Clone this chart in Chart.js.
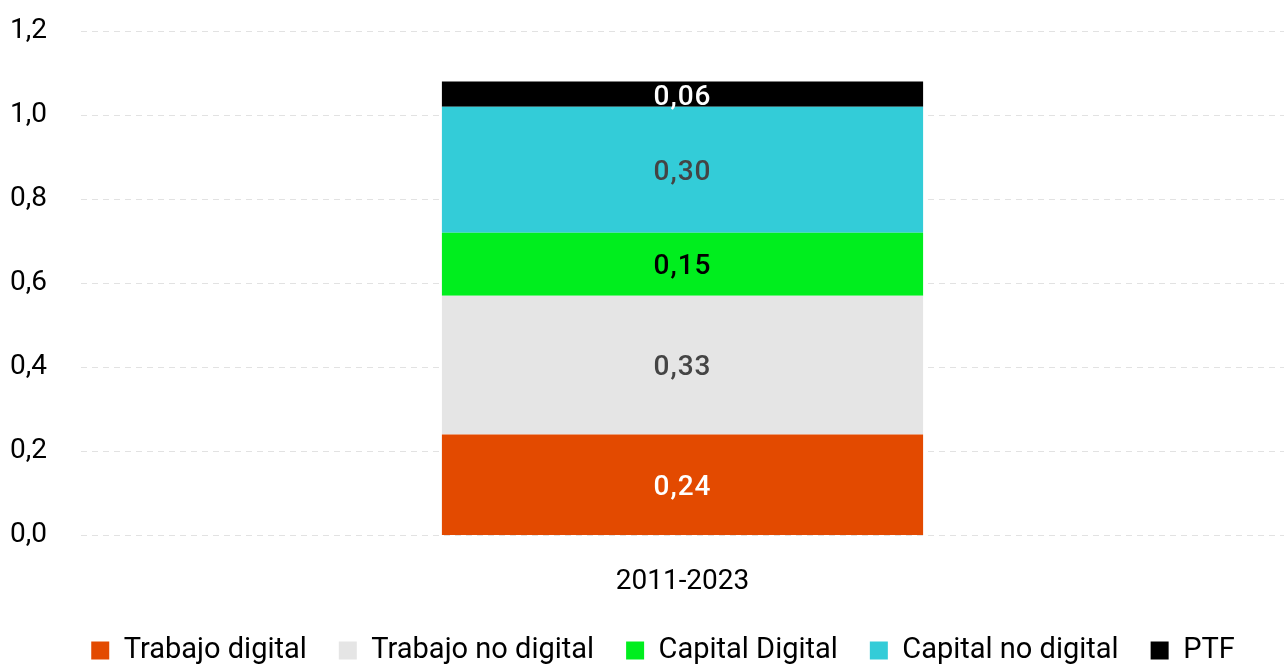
<!DOCTYPE html>
<html>
<head>
<meta charset="utf-8">
<script src="https://cdn.jsdelivr.net/npm/chart.js@4/dist/chart.umd.min.js"></script>
<style>
  html, body { margin: 0; padding: 0; background: #ffffff; }
  #wrap { width: 1284px; height: 664px; }
</style>
</head>
<body>
<div id="wrap"><canvas id="c" width="1284" height="664"></canvas></div>
<script>
// Contribution to growth, period 2011-2023
const categories = ['2011-2023'];
const seriesNames = ['Trabajo digital', 'Trabajo no digital', 'Capital Digital', 'Capital no digital', 'PTF'];
const trabajoDigital = [0.24];
const trabajoNoDigital = [0.33];
const capitalDigital = [0.15];
const capitalNoDigital = [0.30];
const ptf = [0.06];
const yTicks = [0.0, 0.2, 0.4, 0.6, 0.8, 1.0, 1.2];

const seriesValues = [trabajoDigital, trabajoNoDigital, capitalDigital, capitalNoDigital, ptf];
const seriesColors = ['#e34a00', '#e5e5e5', '#00ee1e', '#33ccd8', '#000000'];
const labelColors = ['#ffffff', '#444444', '#000000', '#444444', '#ffffff'];

const fmt = (v, d) => v.toFixed(d).replace('.', ',');

// Draws each segment's value in the middle of its bar piece
const segmentLabels = {
  id: 'segmentLabels',
  afterDatasetsDraw(chart) {
    const ctx = chart.ctx;
    ctx.save();
    ctx.font = '500 28px Roboto';
    ctx.letterSpacing = '1px';
    ctx.textAlign = 'center';
    ctx.textBaseline = 'middle';
    chart.data.datasets.forEach((ds, i) => {
      const meta = chart.getDatasetMeta(i);
      meta.data.forEach((bar, j) => {
        const v = ds.data[j];
        const yc = (bar.y + bar.base) / 2;
        ctx.fillStyle = labelColors[i];
        ctx.fillText(fmt(v, 2), bar.x, yc + (i === 4 ? 4 : 3));
      });
    });
    ctx.restore();
  }
};

// Nudges the legend row to the right of the plot centre
const legendShift = {
  id: 'legendShift',
  afterLayout(chart) {
    if (chart.legend) {
      chart.legend.left += 16;
      chart.legend.right += 16;
    }
  }
};

new Chart(document.getElementById('c'), {
  type: 'bar',
  data: {
    labels: categories,
    datasets: seriesNames.map((name, i) => ({
      label: name,
      data: seriesValues[i],
      backgroundColor: seriesColors[i],
      borderWidth: 0,
      barPercentage: 0.4,
      categoryPercentage: 1.0
    }))
  },
  options: {
    responsive: false,
    animation: false,
    layout: { padding: { left: 10, right: 0, top: 31, bottom: -11 } },
    scales: {
      x: {
        stacked: true,
        afterFit(scale) { scale.height -= 17; },
        grid: { display: false },
        border: { display: false },
        ticks: { color: '#000000', font: { family: 'Roboto', size: 28 }, padding: 22 }
      },
      y: {
        stacked: true,
        min: 0,
        max: 1.2,
        afterBuildTicks(scale) { scale.ticks = yTicks.map(v => ({ value: v })); },
        afterFit(scale) { scale.width = 71; },
        grid: { color: '#e2e2e2', drawTicks: false, lineWidth: 1 },
        border: { display: false, dash: [6, 5] },
        ticks: {
          color: '#000000',
          crossAlign: 'far',
          font: { family: 'Roboto', size: 28 },
          padding: 0,
          callback: v => fmt(v, 1)
        }
      }
    },
    plugins: {
      legend: {
        position: 'bottom',
        labels: {
          color: '#000000',
          font: { family: 'Roboto', size: 29 },
          boxWidth: 18,
          boxHeight: 18,
          padding: 32
        }
      },
      tooltip: { enabled: false }
    }
  },
  plugins: [segmentLabels, legendShift]
});
</script>
</body>
</html>
